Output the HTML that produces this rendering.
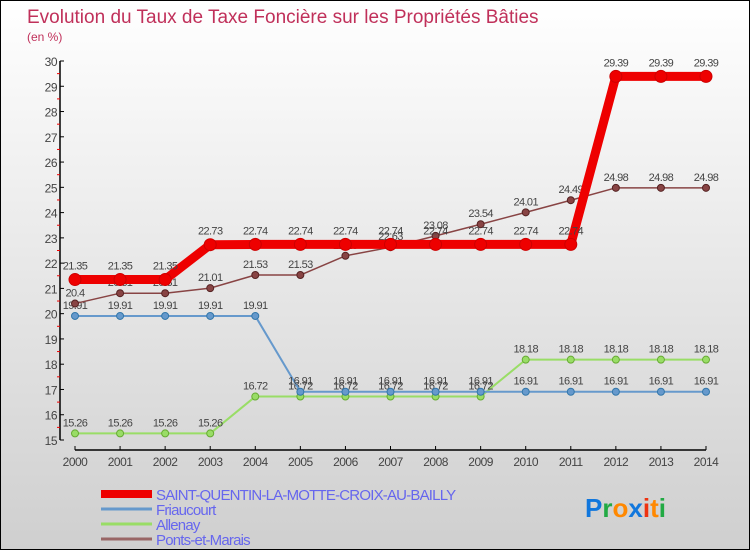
<!DOCTYPE html>
<html><head><meta charset="utf-8"><style>
html,body{margin:0;padding:0}
body{width:750px;height:550px;overflow:hidden;font-family:"Liberation Sans",sans-serif}
#wrap{position:relative;width:748px;height:548px;border:1px solid #000;background:linear-gradient(#ffffff,#cfcfcf)}
svg{position:absolute;left:0;top:0}
</style></head><body>
<div id="wrap">
<svg id="chart" width="748" height="548" font-family="Liberation Sans, sans-serif">
<text x="26" y="22" font-size="19" fill="#c0305a">Evolution du Taux de Taxe Foncière sur les Propriétés Bâties</text>
<text x="26" y="40" font-size="12" fill="#c0305a">(en %)</text>
</svg>
</div>
<script>
const years=[2000,2001,2002,2003,2004,2005,2006,2007,2008,2009,2010,2011,2012,2013,2014];
const sq=[21.35,21.35,21.35,22.73,22.74,22.74,22.74,22.74,22.74,22.74,22.74,22.74,29.39,29.39,29.39];
const friaucourt=[19.91,19.91,19.91,19.91,19.91,16.91,16.91,16.91,16.91,16.91,16.91,16.91,16.91,16.91,16.91];
const allenay=[15.26,15.26,15.26,15.26,16.72,16.72,16.72,16.72,16.72,16.72,18.18,18.18,18.18,18.18,18.18];
const ponts=[20.4,20.81,20.81,21.01,21.53,21.53,22.29,22.63,23.08,23.54,24.01,24.49,24.98,24.98,24.98];
const yTicks=[15,16,17,18,19,20,21,22,23,24,25,26,27,28,29,30];
const seriesNames=["SAINT-QUENTIN-LA-MOTTE-CROIX-AU-BAILLY","Friaucourt","Allenay","Ponts-et-Marais"];

const NS="http://www.w3.org/2000/svg";
const svg=document.getElementById('chart');
const X=i=>74+i*(631/14);
const Y=v=>439-(v-15)*(379/15);
function mk(t,a,p){const e=document.createElementNS(NS,t);for(const k in a)e.setAttribute(k,a[k]);(p||svg).appendChild(e);return e;}

// axes
const ya=mk('line',{x1:59,y1:Y(30),x2:59,y2:Y(15),stroke:'#000','stroke-width':1.5});


const xa=mk('line',{x1:X(0),y1:449,x2:X(14),y2:449,stroke:'#000','stroke-width':1.5});


yTicks.forEach(v=>{
  mk('line',{x1:59,y1:Y(v),x2:63,y2:Y(v),stroke:'#000'});
  if(v<30) mk('line',{x1:56,y1:Y(v+0.5),x2:59,y2:Y(v+0.5),stroke:'#e00'});
  const t=mk('text',{x:56,y:Y(v)+5,'font-size':12,'text-anchor':'end',fill:'#444','letter-spacing':'-0.5'});
  t.textContent=v;
  
  
});
years.forEach((yr,i)=>{
  mk('line',{x1:X(i),y1:445,x2:X(i),y2:449,stroke:'#000'});
  const t=mk('text',{x:X(i),y:465,'font-size':12,'text-anchor':'middle',fill:'#444','letter-spacing':'-0.5'});
  t.textContent=yr;
  
  
});

function series(vals,color,dark,w,r,name,big){
  const g=mk('g',{});
  
  
  mk('polyline',{points:vals.map((v,i)=>X(i)+','+Y(v)).join(' '),fill:'none',stroke:color,'stroke-width':w,'stroke-linejoin':'round'},g);
  vals.forEach((v,i)=>{
    const c=mk('circle',{cx:X(i),cy:Y(v),r:r,fill:color,stroke:dark,'stroke-width':1},g);
    
    
    const t=mk('text',{x:X(i),y:Y(v)-(big?10:7),'font-size':11,'text-anchor':'middle',fill:'#444','letter-spacing':'-0.6'},g);
    t.textContent=v;
    
    
  });
}
series(allenay,'#99dd66','#66aa33',2,3.5,'allenay-series');
series(friaucourt,'#6699cc','#3377aa',2,3.5,'friaucourt-series');
series(ponts,'#884444','#552222',1.5,3.5,'ponts-et-marais-series');
series(sq,'#ee0000','#cc0000',9,6,'saint-quentin-series',true);

// legend
const lc=['#ee0000','#6699cc','#99dd66','#996666'];
const lw=[8,3,3,3];
seriesNames.forEach((n,i)=>{
  const y=493+i*15;
  const g=mk('g',{});
  
  
  mk('line',{x1:100,y1:y,x2:151,y2:y,stroke:lc[i],'stroke-width':lw[i]},g);
  const t=mk('text',{x:155,y:y+6,'font-size':15,fill:'#6666ee','letter-spacing':'-0.8'},g);
  t.textContent=n;
});
// logo
const lg=mk('text',{x:584,y:516,'font-size':26,'font-weight':'bold'});


[['P','#1177dd'],['r','#22aa44'],['o','#ff8800'],['x','#1177dd'],['i','#ee3311'],['t','#ff8800'],['i','#22aa44']].forEach(([c,f])=>{
  const s=mk('tspan',{fill:f},lg);s.textContent=c;
});
</script>
</body></html>
